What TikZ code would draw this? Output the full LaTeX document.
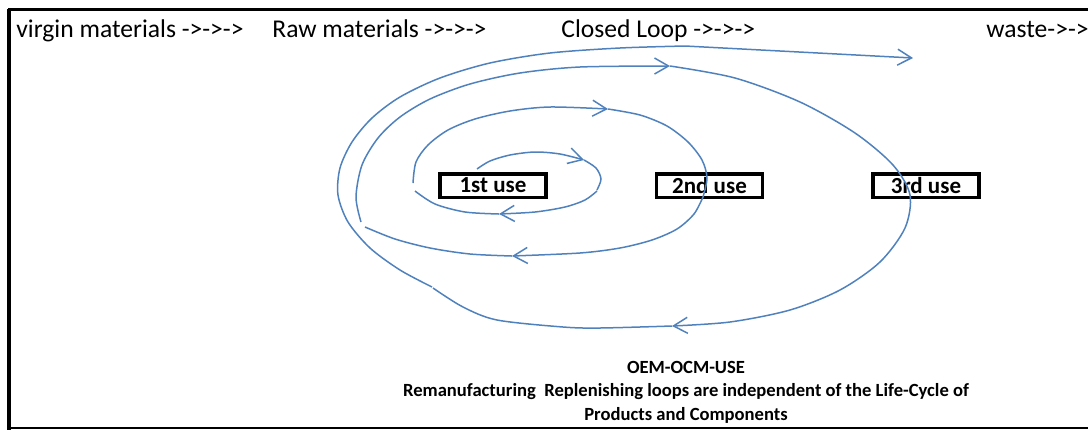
\documentclass[tikz,border=0pt]{standalone}
\usepackage{fontspec}
\setmainfont{Carlito}
\usetikzlibrary{arrows.meta}
\definecolor{loopblue}{RGB}{79,129,189}
\tikzset{
	loopline/.style={line width=0.75pt, color=loopblue},
	looparrow/.style={loopline, -{Straight Barb[length=7pt,width=8pt]}},
	usebox/.style={draw=black, line width=1.75pt, minimum width=53pt, minimum height=11.75pt, inner sep=0pt, font=\fontsize{11.5}{12}\selectfont\bfseries},
	headtext/.style={anchor=base west, inner sep=0pt, font=\fontsize{12.8}{14}\selectfont},
	foottext/.style={anchor=base, inner sep=0pt, font=\fontsize{9.3}{11}\selectfont\bfseries}
}

\begin{document}
\begin{tikzpicture}[x=0.5pt,y=-0.5pt]
			%%%%% START %%%%%
			\useasboundingbox (0,0) rectangle (1088,430);
			
			% frame
			\draw[line width=1.5pt] (8,9.5) -- (1088,9.5);
			\draw[line width=2pt] (9,8.5) -- (9,430);
			\draw[line width=0.75pt] (8,428) -- (1088,428);
			
			% headings
			\node[headtext] (virgin) at (16,37) {virgin materials ->->->};
			\node[headtext] (raw) at (272,37) {Raw materials ->->->};
			\node[headtext] (closed) at (561,37) {Closed Loop ->->->};
			\node[headtext] (waste) at (986,37) {waste->->};
			
			% uses
			\node[usebox] (firstuse) at (493,185.5) {1st use};
			\node[usebox] (seconduse) at (709.5,185.5) {2nd use};
			\node[usebox] (thirduse) at (926,185.5) {3rd use};
			
			% loop 1
			\draw[looparrow] plot[smooth] coordinates {(477,169) (490,161) (510,155) (535,152) (560,154) (584,160)};
			\draw[loopline] plot[smooth] coordinates {(584,160) (596,168) (601,179) (597,190)};
			\draw[looparrow] plot[smooth] coordinates {(597,191) (585,200) (565,207) (535,212) (499,214)};
			\draw[loopline] plot[smooth] coordinates {(499,214) (465,212) (435,204) (415,191)};
			
			% loop 2
			\draw[looparrow] plot[smooth] coordinates {(413,183) (416,162) (428,145) (448,130) (475,119) (510,111) (550,107) (608,109)};
			\draw[loopline] plot[smooth] coordinates {(608,109) (640,115) (667,126) (688,142) (702,160) (707,178) (703,197)};
			\draw[looparrow] plot[smooth] coordinates {(703,197) (694,214) (677,229) (652,240) (620,248) (580,253) (512,256)};
			\draw[loopline] plot[smooth] coordinates {(512,256) (470,254) (430,248) (395,239) (365,227)};
			
			% loop 3
			\draw[looparrow] plot[smooth] coordinates {(361,222) (356,197) (362,165) (378,138) (400,117) (430,99) (470,84) (520,73) (580,67) (670,66)};
			\draw[looparrow] plot[smooth] coordinates {(670,66) (735,78) (800,102) (855,133) (893,165) (910,195) (905,228) (880,262) (840,290) (790,310) (730,322) (672,326)};
			\draw[loopline] plot[smooth] coordinates {(672,326) (600,328) (563,327) (497,320) (463,307) (433,288)};
			
			% way out
			\draw[looparrow] plot[smooth] coordinates {(432,287) (400,270) (370,248) (348,222) (338,195) (340,168) (352,142) (372,118) (400,97) (440,78) (490,63) (550,53) (620,48) (685,46)} -- (913,58);
			
			% caption
			\node[foottext] (oem) at (686,373) {OEM-OCM-USE};
			\node[foottext] (reman) at (686,396) {Remanufacturing\ \ Replenishing loops are independent of the Life-Cycle of};
			\node[foottext] (products) at (686,420) {Products and Components};
			
			%%%%% END %%%%%
\end{tikzpicture}
\end{document}
